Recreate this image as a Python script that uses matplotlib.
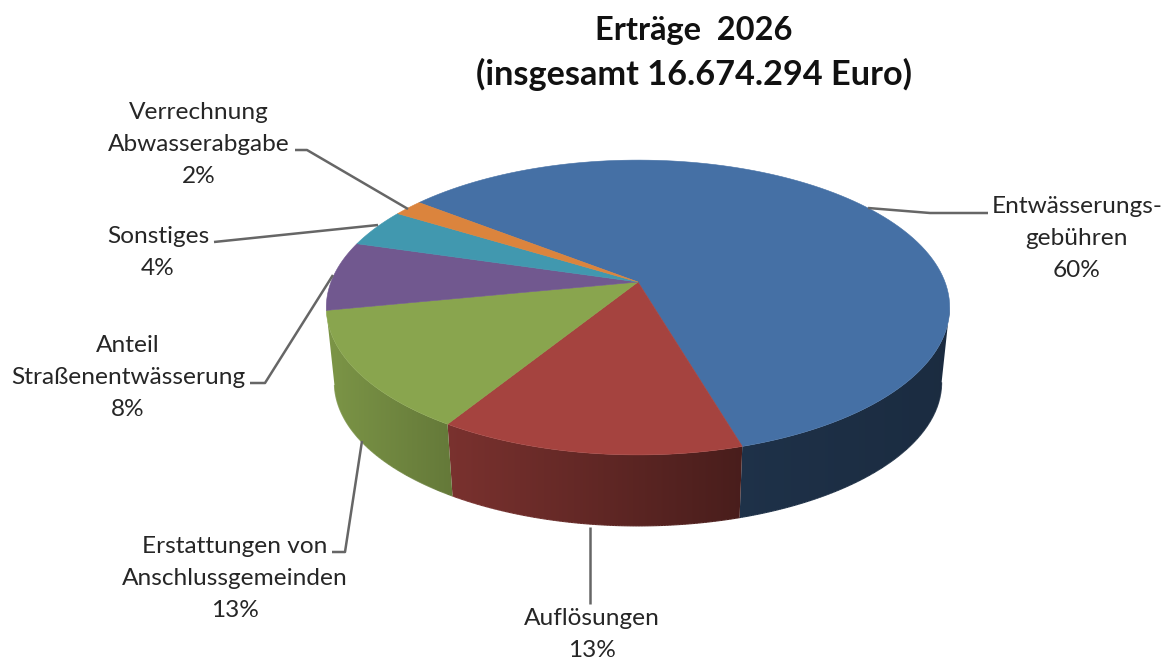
import numpy as np
import matplotlib
matplotlib.use("Agg")
import matplotlib.pyplot as plt
from matplotlib.collections import LineCollection
from matplotlib.patches import Polygon

# datos
categorias = ["Entwässerungs-\ngebühren", "Auflösungen", "Erstattungen von\nAnschlussgemeinden",
              "Anteil\nStraßenentwässerung", "Sonstiges", "Verrechnung\nAbwasserabgabe"]
valores = [59.9, 13.45, 13.05, 7.6, 4.2, 1.8]
colores = ["#4570A5", "#A5433F", "#89A54E", "#71588F", "#4198AF", "#DB843D"]
titulo = ["Erträge  2026", "(insgesamt 16.674.294 Euro)"]

# posicion de textos (linea base) y lineas guia, en pixeles
pos_etiquetas = [(1077, 213), (592, 625), (235, 553), (128, 352), (158, 243), (199, 119)]
guias = [
    [(868, 208), (930, 213), (988, 213)],
    [(590, 527), (590, 604)],
    [(362, 441), (345, 552), (332, 552)],
    [(333, 275), (265, 383), (250, 383)],
    [(378, 225), (214, 242)],
    [(408, 209), (307, 150), (295, 150)],
]

# geometria del disco en perspectiva
inicio = -52.1
cx, cy = 638, 282
a, b, k = 307, 143, 0.173
escala_base, cy_base = 0.974, 357.5


def proyectar(t, base=False):
    u = np.sin(np.radians(t))
    v = -np.cos(np.radians(t))
    s = 1 / (1 - k * v)
    if base:
        return cx + escala_base * a * u * s, cy_base + escala_base * b * v * s
    return cx + a * u * s, cy + b * v * s


def sombra(x):
    # el costado se oscurece de izquierda a derecha
    return np.interp(x, [330, 447, 743, 950], [0.90, 0.74, 0.44, 0.39])


fig = plt.figure(figsize=(11.64, 6.62), dpi=100)
ax = fig.add_axes([0, 0, 1, 1])
ax.axis("off")

plt.rcParams["font.family"] = ["Lato", "DejaVu Sans"]

limites = inicio + np.concatenate([[0], np.cumsum(valores)]) * 360 / sum(valores)

# angulo donde el borde derecho del disco es mas ancho, antes de ahi no se ve el costado
t_derecha = np.degrees(np.arccos(-k))

# costados primero, solo los tres sectores de delante se ven
for i, color in enumerate(colores[:3]):
    ts = np.linspace(max(limites[i], t_derecha), limites[i + 1], 200)
    xs, ys = proyectar(ts)
    xb, yb = proyectar(ts, base=True)
    rgb = np.array(matplotlib.colors.to_rgb(color))

    contorno = Polygon(list(zip(xs, ys)) + list(zip(xb[::-1], yb[::-1])), closed=True,
                       facecolor="none", edgecolor="none", transform=ax.transData)
    ax.add_patch(contorno)

    # degradado horizontal recortado con la forma del costado
    columnas = np.arange(300, 960)
    degradado = (rgb[None, :] * sombra(columnas)[:, None])[None, :, :]
    imagen = ax.imshow(degradado, extent=(300, 960, 560, 140), aspect="auto", zorder=1, interpolation="nearest")
    imagen.set_clip_path(contorno)

    # borde inferior suave
    segmentos = [[(xb[j], yb[j]), (xb[j + 1], yb[j + 1])] for j in range(len(ts) - 1)]
    tonos = [rgb * sombra(xb[j]) for j in range(len(ts) - 1)]
    ax.add_collection(LineCollection(segmentos, colors=tonos, linewidths=0.8, zorder=1))

ax.set_xlim(0, 1164)
ax.set_ylim(662, 0)

# cara superior
for i, color in enumerate(colores):
    ts = np.linspace(limites[i], limites[i + 1], 120)
    xs, ys = proyectar(ts)
    puntos = [(cx, cy)] + list(zip(xs, ys))
    ax.add_patch(Polygon(puntos, closed=True, facecolor=color, edgecolor=color, linewidth=0.4, zorder=2))

# lineas guia
for guia in guias:
    xs, ys = zip(*guia)
    ax.plot(xs, ys, color="#666666", linewidth=1.8, zorder=3, solid_capstyle="butt")

# etiquetas con su porcentaje
for nombre, valor, (x, y) in zip(categorias, valores, pos_etiquetas):
    lineas = nombre.split("\n") + [f"{round(valor)}%"]
    for j, linea in enumerate(lineas):
        ax.text(x, y + j * 32, linea, ha="center", va="baseline", fontsize=17.6, color="#262626")

# titulo
ax.text(694, 40, titulo[0], ha="center", va="baseline", fontsize=23.5, fontweight="bold", color="#111111")
ax.text(694, 85, titulo[1], ha="center", va="baseline", fontsize=24.7, fontweight="bold", color="#111111")

fig.savefig("out.png", dpi=100, facecolor="white")
